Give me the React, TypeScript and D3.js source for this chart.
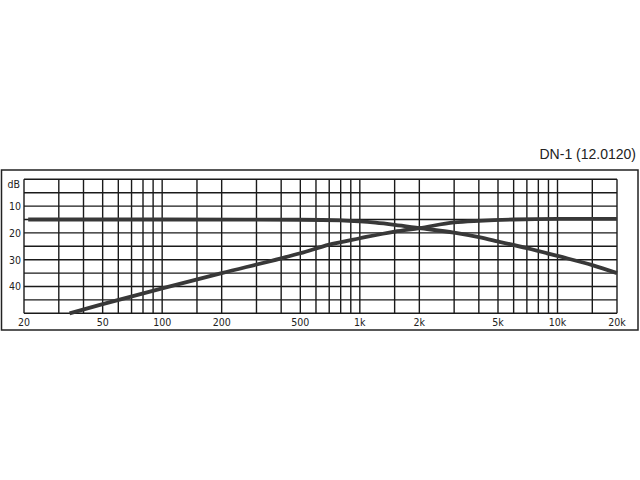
import * as d3 from "d3";

// frequency response, dB attenuation
const lowFreq = [21, 100, 500, 800, 1000, 1200, 1500, 2000, 3000, 4000, 5000, 7000, 10000, 15000, 20000];
const lowDb = [15, 15, 15.1, 15.3, 15.7, 16.2, 17, 18.2, 19.9, 21.6, 23.2, 25.7, 28.6, 32, 35];

const highFreq = [34, 50, 100, 200, 400, 500, 700, 1000, 1500, 2000, 3000, 4000, 6000, 10000, 20000];
const highDb = [50, 46.6, 40.7, 35, 29.5, 27.6, 24.4, 22, 19.5, 18.2, 16.1, 15.5, 15, 14.8, 14.8];

const gridFreqs = [
  30, 40, 50, 60, 70, 80, 90, 100, 150, 200, 300, 400, 500, 600, 700, 800, 900, 1000, 1500,
  2000, 3000, 4000, 5000, 6000, 7000, 8000, 9000, 10000, 15000,
];
const gridDb = [0, 5, 10, 15, 20, 25, 30, 35, 40, 45, 50];

const xTickVals = [20, 50, 100, 200, 500, 1000, 2000, 5000, 10000, 20000];
const xTickLabels = ["20", "50", "100", "200", "500", "1k", "2k", "5k", "10k", "20k"];
const yTickVals = [10, 20, 30, 40];
const title = "DN-1 (12.0120)";

const W = 640;
const H = 480;
const left = 24;
const right = 617;
const top = 179.3;
const bottom = 313.3;

export default function App() {
  const x = d3.scaleLog().domain([20, 20000]).range([left, right]);
  const y = d3.scaleLinear().domain([0, 50]).range([top, bottom]);

  const line = d3
    .line<[number, number]>()
    .x((d) => x(d[0]))
    .y((d) => y(d[1]))
    .curve(d3.curveMonotoneX);

  const lowPts = lowFreq.map((f, i) => [f, lowDb[i]] as [number, number]);
  const highPts = highFreq.map((f, i) => [f, highDb[i]] as [number, number]);

  const labelFont = "'DejaVu Sans Condensed', 'DejaVu Sans', sans-serif";

  return (
    <svg
      width={W}
      height={H}
      style={{ position: "absolute", left: 0, top: 0, background: "#fff" }}
    >
      <text
        x={636}
        y={159}
        textAnchor="end"
        fontFamily="'Liberation Sans', Arial, sans-serif"
        fontSize={14}
        fill="#222"
      >
        {title}
      </text>

      {/* outer frame */}
      <rect x={1.5} y={170} width={636.5} height={160} fill="none" stroke="#222" strokeWidth={1.5} />

      {/* grid */}
      <g stroke="#1a1a1a" strokeWidth={1.4}>
        {gridDb.map((d) => (
          <line key={"h" + d} x1={left} x2={right} y1={y(d)} y2={y(d)} />
        ))}
        {[20, ...gridFreqs, 20000].map((f) => (
          <line key={"v" + f} x1={x(f)} x2={x(f)} y1={top} y2={bottom} />
        ))}
      </g>

      {/* curves */}
      <path d={line(lowPts) ?? ""} fill="none" stroke="#383838" strokeWidth={3.8} />
      <path d={line(highPts) ?? ""} fill="none" stroke="#383838" strokeWidth={3.8} />

      {/* axis labels */}
      <g fontFamily={labelFont} fontSize={10.5} fill="#222">
        {xTickVals.map((f, i) => (
          <text key={f} x={x(f)} y={326} textAnchor="middle">
            {xTickLabels[i]}
          </text>
        ))}
        <text x={20} y={187.5} textAnchor="end">
          dB
        </text>
        {yTickVals.map((d) => (
          <text key={d} x={21} y={y(d) + 3.8} textAnchor="end">
            {d}
          </text>
        ))}
      </g>
    </svg>
  );
}
